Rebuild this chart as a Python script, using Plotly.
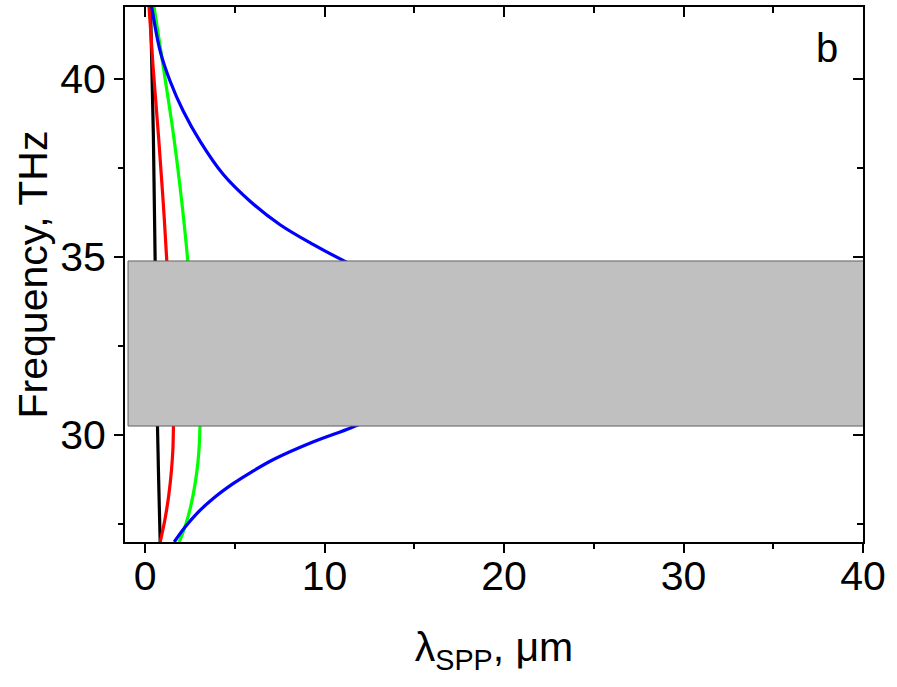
import plotly.graph_objects as go

# ---- data ----
black_up_lam = [0.30, 0.46, 0.56, 0.60]
black_up_f   = [42.02, 38.43, 34.87, 34.4]
black_lo_lam = [0.66, 0.69, 0.74, 0.79, 0.84]
black_lo_f   = [30.6, 30.24, 29.05, 28.0, 26.98]

red_up_lam = [0.22, 0.45, 0.74, 1.0, 1.21, 1.25]
red_up_f   = [42.02, 40.3, 38.43, 36.6, 34.87, 34.4]
red_lo_lam = [1.6, 1.58, 1.55, 1.47, 1.32, 1.10, 0.84]
red_lo_f   = [30.6, 30.24, 29.6, 29.0, 28.3, 27.6, 26.98]

green_up_lam = [0.50, 1.02, 1.58, 2.04, 2.38, 2.45]
green_up_f   = [42.02, 40.31, 38.43, 36.56, 34.87, 34.4]
green_lo_lam = [3.1, 3.06, 3.03, 2.94, 2.78, 2.55, 2.25, 1.90]
green_lo_f   = [30.6, 30.24, 29.8, 29.2, 28.6, 28.0, 27.45, 26.98]

blue_up_lam = [0.37, 0.84, 1.39, 2.13, 3.06, 4.36, 5.85, 7.52, 9.38, 11.14, 12.5]
blue_up_f   = [42.02, 40.78, 39.94, 39.09, 38.25, 37.31, 36.56, 35.90, 35.34, 34.87, 34.55]
blue_lo_lam = [1.62, 2.23, 2.88, 3.81, 4.9, 5.9, 7.15, 9.38, 11.42, 12.7]
blue_lo_f   = [26.98, 27.40, 27.78, 28.21, 28.62, 28.94, 29.30, 29.80, 30.18, 30.45]

gap_lam = [-0.95, 40.25]
gap_f = [30.24, 34.88]

x_range = [-1.12, 40]
y_range = [26.98, 42.02]

FONT = "Liberation Sans, Arial, sans-serif"

fig = go.Figure()
series = [
    (black_up_lam, black_up_f, "#000000"), (black_lo_lam, black_lo_f, "#000000"),
    (red_up_lam, red_up_f, "#ff0000"), (red_lo_lam, red_lo_f, "#ff0000"),
    (green_up_lam, green_up_f, "#00ff00"), (green_lo_lam, green_lo_f, "#00ff00"),
    (blue_up_lam, blue_up_f, "#0000ff"), (blue_lo_lam, blue_lo_f, "#0000ff"),
]
for lam, f, c in series:
    fig.add_trace(go.Scatter(x=lam, y=f, mode="lines",
                             line=dict(color=c, width=3.2, shape="spline", smoothing=1.0),
                             showlegend=False, hoverinfo="skip", cliponaxis=True))

# invisible trace for mirrored axes
fig.add_trace(go.Scatter(x=x_range, y=y_range, xaxis="x2", yaxis="y2", mode="markers",
                         marker=dict(opacity=0), showlegend=False, hoverinfo="skip"))

fig.add_shape(type="rect", xref="x", yref="y", x0=gap_lam[0], x1=gap_lam[1],
              y0=gap_f[0], y1=gap_f[1], fillcolor="#c0c0c0",
              line=dict(color="#606060", width=1), layer="above")

fig.add_annotation(x=38.0, y=40.86, xref="x", yref="y", text="b", showarrow=False,
                   font=dict(family=FONT, size=40, color="black"))

axis_common = dict(showgrid=False, zeroline=False, showline=True, linecolor="black",
                   linewidth=2, tickcolor="black", tickwidth=1.5, automargin=False)

fig.update_layout(
    width=897, height=687,
    margin=dict(l=125, r=34, t=7, b=145),
    paper_bgcolor="white", plot_bgcolor="white",
    font=dict(family=FONT, size=40, color="black"),
    xaxis=dict(range=x_range, dtick=10, tick0=0, ticks="outside", ticklen=9,
               minor=dict(dtick=5, tick0=0, ticks="outside", ticklen=5, tickcolor="black", tickwidth=1.5),
               tickfont=dict(size=41), ticklabelstandoff=-12,
               title=dict(text="λ<sub>SPP</sub>, μm", font=dict(size=41), standoff=34),
               **axis_common),
    yaxis=dict(range=y_range, dtick=5, tick0=0, ticks="outside", ticklen=9,
               minor=dict(dtick=2.5, tick0=0, ticks="outside", ticklen=5, tickcolor="black", tickwidth=1.5),
               tickfont=dict(size=41),
               title=dict(text="Frequency, THz", font=dict(size=41), standoff=0),
               **axis_common),
    xaxis2=dict(range=x_range, overlaying="x", side="top", dtick=10, tick0=0,
                ticks="inside", ticklen=10, showticklabels=False,
                minor=dict(dtick=5, tick0=0, ticks="inside", ticklen=6, tickcolor="black", tickwidth=1.5),
                **axis_common),
    yaxis2=dict(range=y_range, overlaying="y", side="right", dtick=5, tick0=0,
                ticks="inside", ticklen=10, showticklabels=False,
                minor=dict(dtick=2.5, tick0=0, ticks="inside", ticklen=6, tickcolor="black", tickwidth=1.5),
                **axis_common),
)

fig.write_html("out.html", config={"displayModeBar": False},
               post_script="document.body.style.margin='0';")
